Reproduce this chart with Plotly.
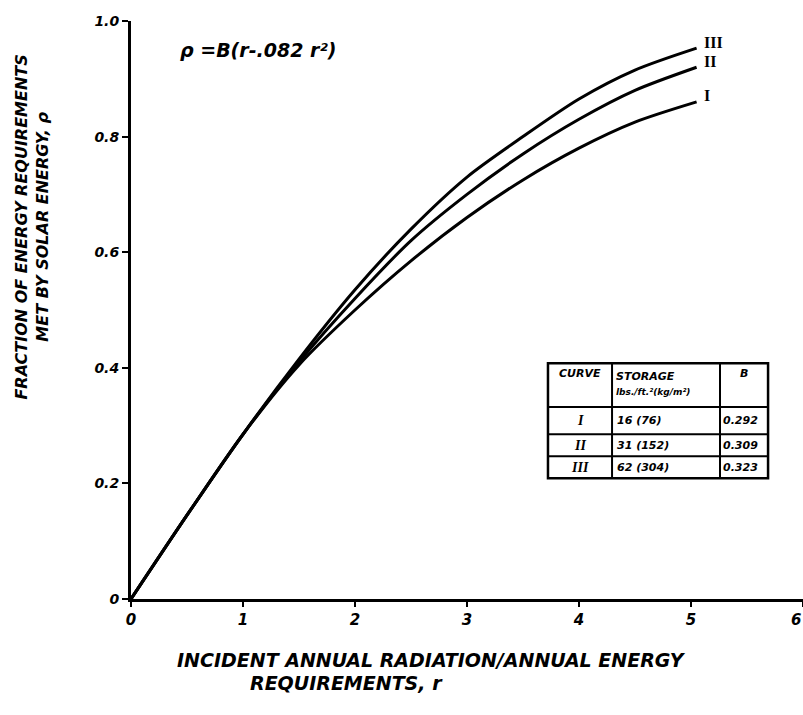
import plotly.graph_objects as go

# ---- data ----
r_vals = [0, 0.5, 1.0, 1.5, 2.0, 2.5, 3.0, 3.5, 4.0, 4.5, 5.05]
curve_I = [0, 0.145, 0.285, 0.405, 0.500, 0.585, 0.660, 0.725, 0.780, 0.825, 0.860]
curve_II = [0, 0.145, 0.285, 0.410, 0.520, 0.620, 0.700, 0.770, 0.830, 0.880, 0.920]
curve_III = [0, 0.145, 0.285, 0.415, 0.535, 0.640, 0.730, 0.800, 0.865, 0.915, 0.953]
curve_names = ["I", "II", "III"]

x_ticks = [0, 1, 2, 3, 4, 5, 6]
x_ticktext = ["0", "1", "2", "3", "4", "5", "6"]
y_ticks = [0, 0.2, 0.4, 0.6, 0.8, 1.0]
y_ticktext = ["0", "0.2", "0.4", "0.6", "0.8", "1.0"]

table_header = ["CURVE", "STORAGE", "lbs./ft.²(kg/m²)", "B"]
table_curve = ["I", "II", "III"]
table_storage = ["16 (76)", "31 (152)", "62 (304)"]
table_B = ["0.292", "0.309", "0.323"]

FONT = "DejaVu Sans"
bi = dict(family=FONT, color="black", weight="bold", style="italic")

fig = go.Figure()
for ys, name in zip([curve_I, curve_II, curve_III], curve_names):
    fig.add_trace(go.Scatter(x=r_vals, y=ys, mode="lines", name=name,
                             line=dict(color="black", width=3, shape="spline", smoothing=0.8),
                             showlegend=False, hoverinfo="skip"))

annotations = []
# curve labels
for ys, name in zip([curve_I, curve_II, curve_III], curve_names):
    annotations.append(dict(x=r_vals[-1], y=ys[-1], xref="x", yref="y", text=name,
                            showarrow=False, xanchor="left", yanchor="middle", xshift=5, yshift=6,
                            font=dict(family="Liberation Serif", size=16, color="black", weight="bold")))

# formula
annotations.append(dict(x=0.42, y=0.95, xref="x", yref="y", text="ρ =B(r-.082 r²)",
                        showarrow=False, xanchor="left", yanchor="middle",
                        font=dict(size=19, **bi)))

# axis titles (paper coordinates)
annotations.append(dict(x=-0.147, y=0.643, xref="paper", yref="paper",
                        text="FRACTION OF ENERGY REQUIREMENTS<br>MET BY SOLAR ENERGY, ρ",
                        textangle=-90, showarrow=False, xanchor="center", yanchor="middle",
                        align="center", font=dict(size=16, **bi)))
annotations.append(dict(x=0.0655, y=-0.1055, xref="paper", yref="paper",
                        text="INCIDENT ANNUAL RADIATION/ANNUAL ENERGY",
                        showarrow=False, xanchor="left", yanchor="middle",
                        font=dict(size=19, **bi)))
annotations.append(dict(x=0.174, y=-0.145, xref="paper", yref="paper",
                        text="REQUIREMENTS, r",
                        showarrow=False, xanchor="left", yanchor="middle",
                        font=dict(size=19, **bi)))
# last x tick label, at the right edge
annotations.append(dict(x=1.0, y=-0.037, xref="paper", yref="paper", text=x_ticktext[-1],
                        showarrow=False, xanchor="right", yanchor="middle",
                        font=dict(size=15, **bi)))

# table geometry (data coordinates)
tx = [3.723, 4.295, 5.259, 5.688]
ty = [0.408, 0.332, 0.285, 0.247, 0.209]
shapes = []
shapes.append(dict(type="rect", xref="x", yref="y", x0=tx[0], x1=tx[3], y0=ty[4], y1=ty[0],
                   line=dict(color="black", width=2.5)))
for xv in tx[1:3]:
    shapes.append(dict(type="line", xref="x", yref="y", x0=xv, x1=xv, y0=ty[4], y1=ty[0],
                       line=dict(color="black", width=2)))
for yv in ty[1:4]:
    shapes.append(dict(type="line", xref="x", yref="y", x0=tx[0], x1=tx[3], y0=yv, y1=yv,
                       line=dict(color="black", width=2)))

# header cells
annotations.append(dict(x=(tx[0] + tx[1]) / 2, y=ty[0] - 0.017, xref="x", yref="y", text=table_header[0],
                        showarrow=False, xanchor="center", yanchor="middle", font=dict(size=11, **bi)))
annotations.append(dict(x=tx[1] + 0.02, y=ty[0] - 0.023, xref="x", yref="y", text=table_header[1],
                        showarrow=False, xanchor="left", yanchor="middle", font=dict(size=11, **bi)))
annotations.append(dict(x=tx[1] + 0.02, y=ty[0] - 0.050, xref="x", yref="y", text=table_header[2],
                        showarrow=False, xanchor="left", yanchor="middle", font=dict(size=9, **bi)))
annotations.append(dict(x=(tx[2] + tx[3]) / 2, y=ty[0] - 0.017, xref="x", yref="y", text=table_header[3],
                        showarrow=False, xanchor="center", yanchor="middle", font=dict(size=11, **bi)))
for i in range(3):
    yc = (ty[i + 1] + ty[i + 2]) / 2
    annotations.append(dict(x=(tx[0] + tx[1]) / 2, y=yc, xref="x", yref="y", text=table_curve[i],
                            showarrow=False, xanchor="center", yanchor="middle",
                            font=dict(family="Liberation Serif", size=14, color="black", weight="bold", style="italic")))
    annotations.append(dict(x=tx[1] + 0.03, y=yc, xref="x", yref="y", text=table_storage[i],
                            showarrow=False, xanchor="left", yanchor="middle", font=dict(size=11, **bi)))
    annotations.append(dict(x=tx[2] + 0.01, y=yc, xref="x", yref="y", text=table_B[i],
                            showarrow=False, xanchor="left", yanchor="middle", font=dict(size=11, **bi)))

fig.update_layout(
    width=803, height=715,
    margin=dict(l=131, r=0, t=21, b=116),
    paper_bgcolor="white", plot_bgcolor="white",
    annotations=annotations, shapes=shapes,
    xaxis=dict(range=[0, 6], tickvals=x_ticks, ticktext=x_ticktext, showline=True, linewidth=3,
               linecolor="black", ticks="outside", ticklen=5, tickwidth=2, tickcolor="black",
               showgrid=False, zeroline=False, automargin=False,
               tickfont=dict(size=15, **bi)),
    yaxis=dict(range=[0, 1], tickvals=y_ticks, ticktext=y_ticktext, showline=True, linewidth=3,
               linecolor="black", ticks="outside", ticklen=6, tickwidth=2, tickcolor="black",
               showgrid=False, zeroline=False, automargin=False,
               tickfont=dict(size=14, **bi)),
)

fig.write_html("out.html")
